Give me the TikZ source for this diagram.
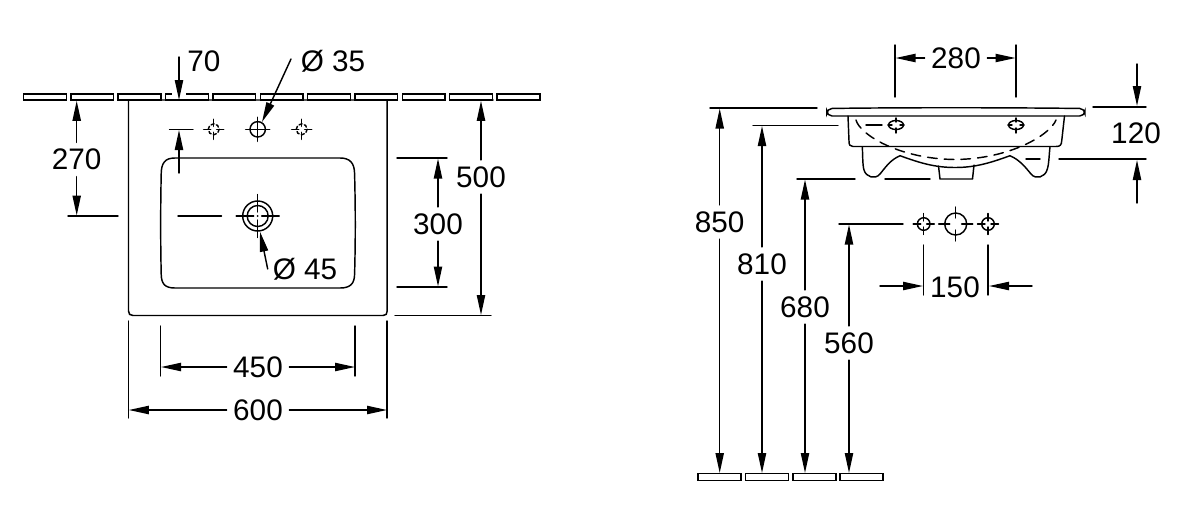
\documentclass[tikz,border=0pt]{standalone}
\usepackage{fontspec}
\setmainfont{Liberation Sans}
\usetikzlibrary{arrows.meta}

\tikzset{
  ln/.style={line width=0.29mm, line cap=round},
  dim/.style={ln, -{Triangle[length=4mm, width=1.65mm]}},
  lbl/.style={inner sep=1.25mm, font=\fontsize{16.9pt}{18pt}\selectfont},
  tile/.style={line width=0.29mm},
}

\begin{document}
\begin{tikzpicture}[x=0.2mm, y=-0.2mm]
  \useasboundingbox (0,0) rectangle (1182,517);

  % wall, top view
  \foreach \i in {0,...,10}
    \draw[tile] ({23.5+47.35*\i},93.8) rectangle ++(42.8,6.4);
  \fill[white] (172,92) rectangle (186,98);

  % basin, top view
  \draw[ln] (128.5,100) -- (387.2,100) -- (387.2,311)
    .. controls (387.2,314) and (386,315.5) .. (383,315.5)
    -- (133,315.5)
    .. controls (130,315.5) and (128.5,314) .. (128.5,311) -- cycle;
  \draw[ln] (175,158) -- (340,158)
    .. controls (350,158) and (354.5,163) .. (354.6,174)
    .. controls (355.5,210) and (355.5,240) .. (354.6,274)
    .. controls (354.5,284) and (350,288) .. (340,288)
    -- (175,288)
    .. controls (165,288) and (161.3,284) .. (161.2,274)
    .. controls (160.5,240) and (160.5,210) .. (161.2,174)
    .. controls (161.3,163) and (165,158) .. (175,158) -- cycle;

  % tap holes
  \foreach \x in {213.7,301.7} {
    \draw[ln, dash pattern=on 1.8pt off 1.4pt] (\x,129.3) circle [radius=5.5];
    \foreach \a in {0,90,180,270}
      \draw[ln] ([shift={(\a:3)}]\x,129.3) -- ([shift={(\a:10)}]\x,129.3);
  }
  \coordinate (tap) at (257.7,129.3);
  \draw[ln] (tap) circle [radius=7.7];
  \draw[ln] (245.7,129.3) -- (269.7,129.3) (257.7,117.3) -- (257.7,141.3);

  % waste
  \coordinate (waste) at (257.7,216);
  \draw[ln] (waste) circle [radius=15] (waste) circle [radius=10.5];
  \foreach \a in {0,90,180,270}
    \draw[ln] ([shift={(\a:4)}]waste) -- ([shift={(\a:21.5)}]waste);
  \fill (waste) circle [radius=1];

  % dimensions, top view
  \node[lbl] (l70) at (204,61) {70};
  \node[lbl] (l35) at (333,61) {Ø 35};
  \node[lbl] (l270) at (76.7,159.5) {270};
  \node[lbl] (l45) at (305,269.5) {Ø 45};
  \node[lbl] (l300) at (438,224) {300};
  \node[lbl] (l500) at (481,177) {500};
  \node[lbl] (l450) at (258,367) {450};
  \node[lbl] (l600) at (258,410) {600};

  \draw[dim] (179,57) -- (179,100);
  \draw[dim] (291,59) -- (262,122);
  \draw[ln] (169.5,129.3) -- (193,129.3);
  \draw[dim] (179,173) -- (179,130);
  \draw[ln] (68,216) -- (118,216) (178,216) -- (221.5,216);
  \draw[dim] (l270) -- (76.7,100.8);
  \draw[dim] (l270) -- (76.7,215.5);
  \draw[dim] (267.7,269) -- (260,231.7);
  \draw[ln] (397,158) -- (447,158) (397,287) -- (447,287);
  \draw[dim] (l300) -- (438,158.5);
  \draw[dim] (l300) -- (438,286.5);
  \draw[ln] (464,100) -- (493,100) (395,315.5) -- (491,315.5);
  \draw[dim] (l500) -- (481,100.8);
  \draw[dim] (l500) -- (481,315);
  \draw[ln] (160.7,326) -- (160.7,376) (355,326) -- (355,376);
  \draw[dim] (l450) -- (161,367);
  \draw[dim] (l450) -- (355,367);
  \draw[ln] (128.5,321) -- (128.5,418) (387.2,321) -- (387.2,418);
  \draw[dim] (l600) -- (128.8,410);
  \draw[dim] (l600) -- (387,410);

  % floor, side view
  \foreach \x in {698,745.5,793,840}
    \draw[tile] (\x,473.5) rectangle ++(43.2,7);

  % basin, side view
  \draw[ln, rounded corners=3] (826.8,108.5) .. controls (900,107.5) and (1000,107.5) .. (1085,108.5)
    -- (1085,116) -- (826.8,116) -- cycle;
  \draw[ln] (848,116) -- (849,141) .. controls (849,145) and (850,146.5) .. (853,146.5)
    -- (1056,146.5) .. controls (1060,146.5) and (1061.5,145) .. (1061.7,141) -- (1064.5,116);
  \draw[ln] (862.3,147) .. controls (862.8,155) and (862.5,165) .. (864,170)
    .. controls (866,177) and (875,180) .. (880,174)
    .. controls (885,168) and (890,160) .. (900,155.7)
    .. controls (920,163) and (935,167.5) .. (955,167.5)
    .. controls (975,167.5) and (990,163) .. (1010,155.7)
    .. controls (1020,160) and (1026,168) .. (1031,174)
    .. controls (1036,180) and (1045,177) .. (1047,170)
    .. controls (1049,165) and (1049,155) .. (1050,147);
  \draw[ln] (938.5,166) -- (940,179) -- (972.5,179) -- (974,165);
  \draw[ln, dash pattern=on 5.5pt off 4pt] (856,120)
    .. controls (860,135) and (900,159) .. (955,159.5)
    .. controls (1010,159) and (1050,135) .. (1056,120);
  \foreach \x in {896,1016} {
    \draw[ln] (\x,125) ellipse [x radius=7.5, y radius=4.5];
    \draw[ln] (\x-8,125) -- (\x-4,125) (\x+4,125) -- (\x+8,125)
      (\x,118) -- (\x,122) (\x,128) -- (\x,133);
  }
  \draw[ln] (866,125) -- (882,125);

  % holes, side view
  \foreach \x in {923.7,988} {
    \draw[ln] (\x,224) circle [radius=6.3];
    \foreach \a in {0,90,180,270}
      \draw[ln] ([shift={(\a:3)}]\x,224) -- ([shift={(\a:10.5)}]\x,224);
  }
  \draw[ln] (955.7,224) circle [radius=11];
  \foreach \a in {0,90,180,270}
    \draw[ln] ([shift={(\a:6)}]955.7,224) -- ([shift={(\a:17)}]955.7,224);

  % dimensions, side view
  \node[lbl] (l280) at (956,58) {280};
  \node[lbl] (l120) at (1136,133.5) {120};
  \node[lbl] (l850) at (719.7,222) {850};
  \node[lbl] (l810) at (762,264) {810};
  \node[lbl] (l680) at (805,307) {680};
  \node[lbl] (l560) at (849,343) {560};
  \node[lbl] (l150) at (955,287) {150};

  \draw[ln] (895,45) -- (895,97) (1016,45) -- (1016,97);
  \draw[dim] (l280) -- (895.5,58);
  \draw[dim] (l280) -- (1015.5,58);
  \draw[ln] (1093,107) -- (1146,107) (1026,159) -- (1040,159) (1059,159) -- (1146,159);
  \draw[dim] (1137,64) -- (1137,106);
  \draw[dim] (1137,203) -- (1137,160);
  \draw[ln] (710,108) -- (817,108) (753,125.5) -- (838,125.5)
    (797,179) -- (855,179) (885,179) -- (930,179) (839,224) -- (903,224);
  \foreach \n/\x/\y in {l850/719.7/108.5,l810/762/126,l680/805/179.5,l560/849/224.5} {
    \draw[dim] (\n) -- (\x,\y);
    \draw[dim] (\n) -- (\x,473);
  }
  \draw[ln] (923.7,245) -- (923.7,295) (988,245) -- (988,295);
  \draw[dim] (880,286) -- (923,286);
  \draw[dim] (1032,286) -- (989,286);
\end{tikzpicture}
\end{document}
